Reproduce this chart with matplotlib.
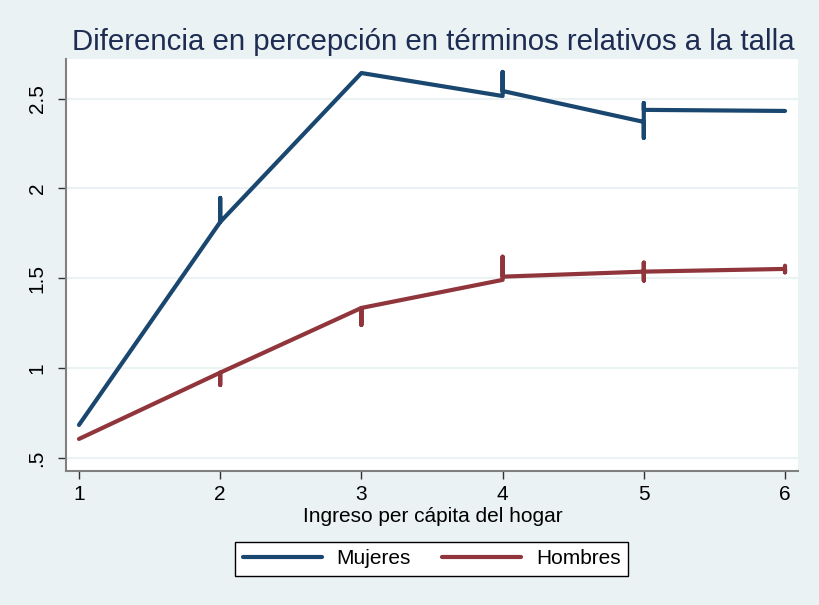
import matplotlib
matplotlib.use("Agg")
import matplotlib.pyplot as plt

plt.rcParams['font.family'] = ['Liberation Sans', 'DejaVu Sans']

# income group (x) with repeated x values: Stata draws the line through every obs
x_mujeres = [1, 2, 2, 2, 3, 4, 4, 4, 5, 5, 5, 5, 6]
y_mujeres = [0.684, 1.813, 1.947, 1.813, 2.642, 2.514, 2.648, 2.542,
             2.370, 2.281, 2.475, 2.437, 2.431]

x_hombres = [1, 2, 2, 2, 3, 3, 3, 4, 4, 4, 5, 5, 5, 5, 6, 6, 6]
y_hombres = [0.606, 0.975, 0.906, 0.975, 1.335, 1.240, 1.335, 1.491, 1.620,
             1.509, 1.537, 1.487, 1.587, 1.537, 1.552, 1.533, 1.570]

y_ticks = [0.5, 1, 1.5, 2, 2.5]
y_ticklabels = ['.5', '1', '1.5', '2', '2.5']
x_ticks = [1, 2, 3, 4, 5, 6]

bg = '#eaf2f3'
fig = plt.figure(figsize=(8.19, 6.05), dpi=100, facecolor=bg)
ax = fig.add_axes([66 / 819, 1 - 471 / 605, (798 - 66) / 819, (471 - 59) / 605])
ax.set_facecolor('white')

line_kw = dict(lw=3.0, solid_capstyle='round', solid_joinstyle='round')
ax.plot(x_mujeres, y_mujeres, color='#1a476f', label='Mujeres', **line_kw)
ax.plot(x_hombres, y_hombres, color='#90353b', label='Hombres', **line_kw)

ax.set_xlim(0.908, 6.092)
ax.set_ylim(0.4277, 2.720)
ax.set_yticks(y_ticks)
ax.set_yticklabels(y_ticklabels, rotation=90, va='center')
ax.set_xticks(x_ticks)
ax.grid(axis='y', color=bg, lw=1.5)
ax.set_axisbelow(True)

for s in ['top', 'right']:
    ax.spines[s].set_visible(False)
for s in ['left', 'bottom']:
    ax.spines[s].set_color('#808080')
    ax.spines[s].set_linewidth(1.5)
ax.tick_params(axis='both', labelsize=15, direction='out', length=6, width=1, color='#303030')
ax.tick_params(axis='y', pad=8)
ax.tick_params(axis='x', pad=4)

fig.text(433 / 819, 1 - 42 / 605, 'Diferencia en percepción en términos relativos a la talla',
         ha='center', va='center', fontsize=21.2, color='#1e2c53')
fig.text(433 / 819, 1 - 517 / 605, 'Ingreso per cápita del hogar',
         ha='center', va='center', fontsize=15)

leg = fig.legend(loc='center', bbox_to_anchor=(431.5 / 819, 1 - 559 / 605), ncol=2,
                 fontsize=15, frameon=True, fancybox=False, edgecolor='black',
                 facecolor='white', framealpha=1,
                 handlelength=3.8, handletextpad=0.7, columnspacing=1.5,
                 borderpad=0.35)
leg.get_frame().set_linewidth(1.0)

fig.savefig('out.png', dpi=100, facecolor=bg)
